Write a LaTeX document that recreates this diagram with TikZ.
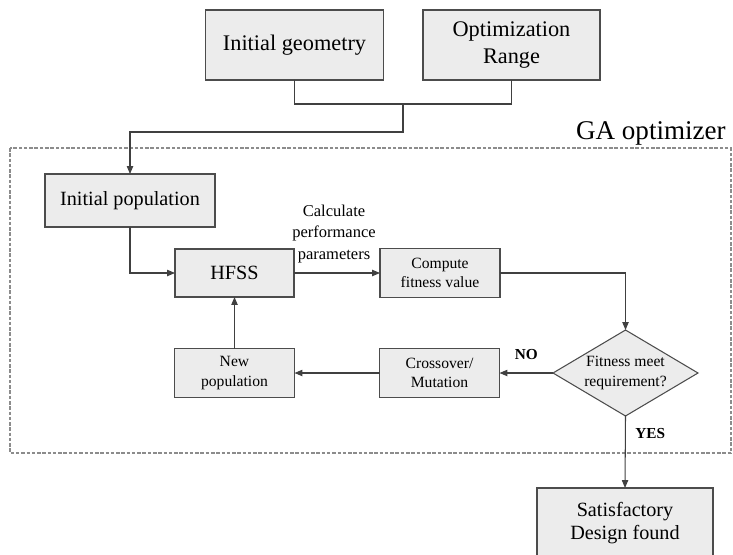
\documentclass[tikz,border=0pt]{standalone}
\usepackage{fontspec}
\setmainfont{Liberation Serif}
\usetikzlibrary{shapes.geometric}
\usetikzlibrary{arrows.meta}
\tikzset{
    box/.style = {rectangle, draw=black!70, line width=0.6pt, fill=gray!15, align=center, inner sep=1pt, outer sep=0pt},
    bigbox/.style = {box, minimum width=3.56cm, minimum height=1.4cm, font=\fontsize{12.7}{15}\selectfont},
    midbox/.style = {box, font=\fontsize{11.5}{13.5}\selectfont},
    smallbox/.style = {box, minimum width=2.4cm, minimum height=0.97cm, font=\fontsize{8.9}{11}\selectfont},
    decision/.style = {diamond, draw=black!70, line width=0.6pt, fill=gray!15, align=center, aspect=1.69, inner sep=0pt, outer sep=0pt,
                       minimum width=2.9cm, minimum height=1.72cm, font=\fontsize{8.9}{11}\selectfont},
    frame/.style = {draw=black!45, line width=0.6pt, dash pattern=on 2pt off 1pt},
    line/.style = {draw=black!75, line width=0.6pt},
    edgen/.style = {line, -{Triangle[length=4.5pt,width=3.6pt]}},
    tag/.style = {font=\bfseries\fontsize{8.7}{10}\selectfont}
}

\begin{document}
\begin{tikzpicture}[x=0.02cm,y=-0.02cm]
\useasboundingbox (0,0) rectangle (733,554);
\draw[frame] (10,148) rectangle (731,453);
\node[anchor=base east, font=\fontsize{15.4}{18}\selectfont, inner sep=0pt] at (726,139) (ga) {GA optimizer};
%
\node[bigbox] at (294.5,45) (geom) {Initial geometry};
\node[bigbox, minimum width=3.54cm] at (511.5,45) (range) {Optimization\\Range};
\node[midbox, minimum width=3.4cm, minimum height=1.06cm] at (130,200.5) (initpop) {Initial population};
\node[midbox, minimum width=2.38cm, minimum height=0.96cm] at (234.5,273) (hfss) {HFSS};
\node[smallbox] at (440,273) (fitness) {Compute\\fitness value};
\node[decision] at (625.5,373) (check) {Fitness meet\\requirement?};
\node[smallbox] at (439.5,373) (cross) {Crossover/\\Mutation};
\node[smallbox] at (234.5,373) (newpop) {New\\population};
\node[midbox, minimum width=3.52cm, minimum height=1.4cm] at (625,523) (done) {Satisfactory\\Design found};
\node[align=center, font=\fontsize{9.4}{12.2}\selectfont, inner sep=0pt] at (334,234) (calc) {Calculate\\performance\\parameters};
%
\coordinate (joint) at (403,104);
\coordinate (bend) at (403,132);
\draw[line] (geom.south) |- (joint) -| (range.south);
\draw[edgen] (joint) -- (bend) -| (initpop.north);
\draw[edgen] (initpop.south) |- (hfss.west);
\draw[edgen] (hfss.east) -- (fitness.west);
\draw[edgen] (fitness.east) -| (check.north);
\draw[edgen] (check.west) -- node[tag, above=4pt] {NO} (cross.east);
\draw[edgen] (cross.west) -- (newpop.east);
\draw[edgen] (newpop.north) -- (hfss.south);
\draw[edgen] (check.south) -- node[tag, pos=0.24, right=2pt] {YES} (done.north);
\end{tikzpicture}
\end{document}
